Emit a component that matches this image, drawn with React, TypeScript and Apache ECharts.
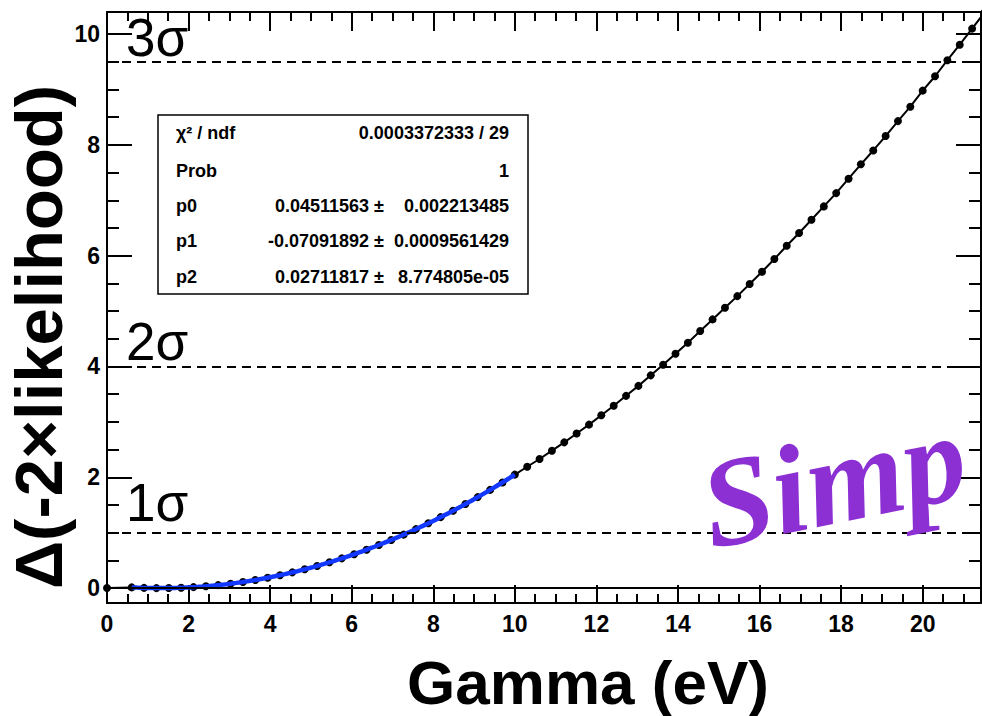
import React, { useEffect, useRef } from 'react';
import * as echarts from 'echarts';

// Scan points: Gamma (eV) against Δ(-2×log-likelihood)
const gamma = [
  0, 0.606, 0.909, 1.212, 1.515, 1.818, 2.121, 2.424, 2.727, 3.03, 3.333,
  3.636, 3.939, 4.242, 4.545, 4.848, 5.152, 5.455, 5.758, 6.061, 6.364,
  6.667, 6.97, 7.273, 7.576, 7.879, 8.182, 8.485, 8.788, 9.091, 9.394,
  9.697, 10.0, 10.303, 10.606, 10.909, 11.212, 11.515, 11.818, 12.121,
  12.424, 12.727, 13.03, 13.333, 13.636, 13.939, 14.242, 14.545, 14.848,
  15.152, 15.455, 15.758, 16.061, 16.364, 16.667, 16.97, 17.273, 17.576,
  17.879, 18.182, 18.485, 18.788, 19.091, 19.394, 19.697, 20.0, 20.303,
  20.606, 20.909, 21.212, 21.515,
];
const deltaLL = [
  0, 0.012, 0.003, -0.001, 0.0, 0.006, 0.017, 0.033, 0.053, 0.079, 0.11,
  0.146, 0.187, 0.232, 0.283, 0.339, 0.399, 0.465, 0.536, 0.611, 0.692,
  0.778, 0.868, 0.964, 1.064, 1.17, 1.28, 1.396, 1.516, 1.642, 1.772,
  1.907, 2.048, 2.19, 2.33, 2.48, 2.63, 2.79, 2.95, 3.12, 3.29, 3.47,
  3.65, 3.84, 4.03, 4.23, 4.43, 4.64, 4.85, 5.06, 5.27, 5.49, 5.71, 5.94,
  6.18, 6.41, 6.65, 6.89, 7.13, 7.39, 7.65, 7.9, 8.16, 8.43, 8.69, 8.98,
  9.24, 9.53, 9.81, 10.1, 10.39,
];

// Quadratic fit pol2: p0 + p1*x + p2*x^2 over the fitted range
const fitParams = [0.04511563, -0.07091892, 0.02711817];
const fitRange = [0.606, 10.0];

// Confidence levels
const sigmaLevels = [1, 4, 9.5];
const sigmaLabels = ['1σ', '2σ', '3σ'];

// Axis ticks
const xMajorTicks = [0, 2, 4, 6, 8, 10, 12, 14, 16, 18, 20];
const xMinorTicks = [
  0.5, 1, 1.5, 2.5, 3, 3.5, 4.5, 5, 5.5, 6.5, 7, 7.5, 8.5, 9, 9.5, 10.5, 11,
  11.5, 12.5, 13, 13.5, 14.5, 15, 15.5, 16.5, 17, 17.5, 18.5, 19, 19.5, 20.5, 21,
];
const yMajorTicks = [0, 2, 4, 6, 8, 10];
const yMinorTicks = [0.5, 1, 1.5, 2.5, 3, 3.5, 4.5, 5, 5.5, 6.5, 7, 7.5, 8.5, 9, 9.5];

// Fit statistics box
const statNames = ['χ² / ndf', 'Prob', 'p0', 'p1', 'p2'];
const statValues = ['', '', '0.04511563 ±', '-0.07091892 ±', '0.02711817 ±'];
const statErrors = ['0.0003372333 / 29', '1', '0.002213485', '0.0009561429', '8.774805e-05'];

const FONT = "'Liberation Sans', Arial, Helvetica, sans-serif";
const X_MAX = 21.43;
const Y_MIN = -0.27;
const Y_MAX = 10.4;

function makeX(position: string, tickLen: number, ticks: number[], withLine: boolean, withLabels: boolean) {
  return {
    type: 'value',
    position,
    min: 0,
    max: X_MAX,
    axisLine: { show: withLine, onZero: false, lineStyle: { color: '#000', width: 2 } },
    axisTick: { show: true, inside: true, length: tickLen, customValues: ticks, lineStyle: { color: '#000', width: 2 } },
    axisLabel: withLabels
      ? { show: true, customValues: ticks, margin: 9, color: '#000', fontFamily: FONT, fontWeight: 'bold', fontSize: 23 }
      : { show: false },
    splitLine: { show: false },
  };
}

function makeY(position: string, tickLen: number, ticks: number[], withLine: boolean, withLabels: boolean) {
  return {
    type: 'value',
    position,
    min: Y_MIN,
    max: Y_MAX,
    axisLine: { show: withLine, onZero: false, lineStyle: { color: '#000', width: 2 } },
    axisTick: { show: true, inside: true, length: tickLen, customValues: ticks, lineStyle: { color: '#000', width: 2 } },
    axisLabel: withLabels
      ? { show: true, customValues: ticks, margin: 7, color: '#000', fontFamily: FONT, fontWeight: 'bold', fontSize: 23 }
      : { show: false },
    splitLine: { show: false },
  };
}

function buildOption() {
  const points = gamma.map((g, i) => [g, deltaLL[i]]);

  const fitCurve: number[][] = [];
  const steps = 150;
  for (let i = 0; i <= steps; i++) {
    const x = fitRange[0] + ((fitRange[1] - fitRange[0]) * i) / steps;
    fitCurve.push([x, fitParams[0] + fitParams[1] * x + fitParams[2] * x * x]);
  }

  const labelGaps = [4, -2, -2];
  const sigmaLines = sigmaLevels.map((lvl, i) => ({
    yAxis: lvl,
    lineStyle: { type: [9, 6], color: '#000', width: 2 },
    label: {
      show: true,
      position: 'insideStartTop',
      distance: [19, labelGaps[i]],
      formatter: sigmaLabels[i],
      color: '#000',
      fontFamily: FONT,
      fontSize: 53,
      fontWeight: 'normal',
    },
  }));

  const rowY = [133, 170.5, 206, 241, 276.5];
  const statTexts: any[] = [];
  statNames.forEach((name, i) => {
    statTexts.push({
      type: 'text', x: 176, y: rowY[i],
      style: { text: name, fill: '#000', font: `bold 18px ${FONT}`, align: 'left', verticalAlign: 'middle', textAlign: 'left', textVerticalAlign: 'middle' },
    });
    if (statValues[i]) {
      statTexts.push({
        type: 'text', x: 384, y: rowY[i],
        style: { text: statValues[i], fill: '#000', font: `bold 18px ${FONT}`, align: 'right', verticalAlign: 'middle', textAlign: 'right', textVerticalAlign: 'middle' },
      });
    }
    statTexts.push({
      type: 'text', x: 509, y: rowY[i],
      style: { text: statErrors[i], fill: '#000', font: `bold 18px ${FONT}`, align: 'right', verticalAlign: 'middle', textAlign: 'right', textVerticalAlign: 'middle' },
    });
  });

  return {
    animation: false,
    backgroundColor: '#fff',
    textStyle: { fontFamily: FONT },
    grid: { left: 107, right: 1, top: 12, bottom: 113, containLabel: false },
    xAxis: [
      makeX('bottom', 18, xMajorTicks, true, true),
      makeX('bottom', 9, xMinorTicks, false, false),
      makeX('top', 19, xMajorTicks, true, false),
      makeX('top', 9, xMinorTicks, false, false),
    ],
    yAxis: [
      makeY('left', 25, yMajorTicks, true, true),
      makeY('left', 12, yMinorTicks, false, false),
      makeY('right', 25, yMajorTicks, true, false),
      makeY('right', 12, yMinorTicks, false, false),
    ],
    series: [
      {
        name: 'scan',
        type: 'line',
        xAxisIndex: 0,
        yAxisIndex: 0,
        data: points,
        clip: false,
        showSymbol: true,
        symbol: 'circle',
        symbolSize: 8,
        itemStyle: { color: '#000' },
        lineStyle: { color: '#000', width: 2 },
        z: 2,
        markLine: {
          silent: true,
          symbol: ['none', 'none'],
          animation: false,
          data: [
            { yAxis: 0, lineStyle: { type: 'solid', color: '#000', width: 2 }, label: { show: false } },
            ...sigmaLines,
          ],
        },
      },
      {
        name: 'fit',
        type: 'line',
        xAxisIndex: 0,
        yAxisIndex: 0,
        data: fitCurve,
        showSymbol: false,
        symbol: 'none',
        lineStyle: { color: '#1238ff', width: 4.5 },
        z: 3,
      },
    ],
    graphic: [
      {
        type: 'text', x: 38, y: 337, rotation: Math.PI / 2,
        style: { text: 'Δ(-2×likelihood)', fill: '#000', font: `bold 67px ${FONT}`, align: 'center', verticalAlign: 'middle', textAlign: 'center', textVerticalAlign: 'middle' },
      },
      {
        type: 'text', x: 588, y: 682,
        style: { text: 'Gamma (eV)', fill: '#000', font: `bold 62px ${FONT}`, align: 'center', verticalAlign: 'middle', textAlign: 'center', textVerticalAlign: 'middle' },
      },
      {
        type: 'rect', z: 10,
        shape: { x: 158, y: 115, width: 370, height: 179 },
        style: { fill: '#fff', stroke: '#000', lineWidth: 1.5 },
      },
      ...statTexts.map((t) => ({ ...t, z: 11 })),
      {
        type: 'text', x: 703, y: 507, rotation: 0.2, z: 12,
        style: { text: 'Simp', fill: '#8c2fd3', font: `italic bold 126px 'Liberation Serif', 'Times New Roman', serif`, align: 'left', verticalAlign: 'middle', textAlign: 'left', textVerticalAlign: 'middle' },
      },
    ],
  };
}

export default function App() {
  const ref = useRef<HTMLDivElement>(null);
  useEffect(() => {
    if (!ref.current) return;
    const chart = echarts.init(ref.current, undefined, { renderer: 'svg' });
    chart.setOption(buildOption() as any);
    return () => chart.dispose();
  }, []);
  return (
    <div
      ref={ref}
      style={{ position: 'fixed', left: 0, top: 0, width: 982, height: 716, background: '#fff' }}
    />
  );
}
